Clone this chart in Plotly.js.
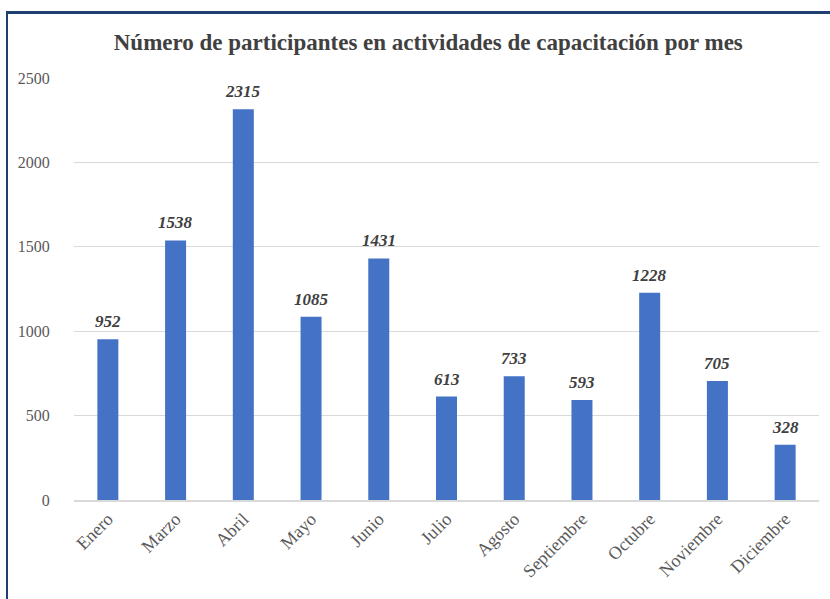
<!DOCTYPE html>
<html>
<head>
<meta charset="utf-8">
<script src="https://cdn.plot.ly/plotly-3.0.1.min.js"></script>
<style>
html,body{margin:0;padding:0;background:#fff;overflow:hidden;}
#frame{position:absolute;left:6px;top:11px;width:840px;height:600px;border-top:3px solid #1f3f6e;border-left:2px solid #1f3f6e;}
#chart{position:absolute;left:0;top:0;width:830px;height:599px;}
</style>
</head>
<body>
<div id="frame"></div>
<div id="chart"></div>
<script>
const months = ["Enero","Marzo","Abril","Mayo","Junio","Julio","Agosto","Septiembre","Octubre","Noviembre","Diciembre"];
const participants = [952,1538,2315,1085,1431,613,733,593,1228,705,328];
const yTicks = [0,500,1000,1500,2000,2500];

const serif = '"Liberation Serif", "DejaVu Serif", serif';

const trace = {
  type: 'bar',
  x: months,
  y: participants,
  marker: {color: '#4472c4'},
  cliponaxis: false,
  hoverinfo: 'none'
};

const labels = months.map((m, i) => ({
  x: m, y: participants[i], xref: 'x', yref: 'y',
  text: '<b><i>' + participants[i] + '</i></b>',
  showarrow: false, yanchor: 'bottom', xanchor: 'center', yshift: 6,
  font: {family: serif, size: 17, color: '#404040'}
}));

const layout = {
  width: 830, height: 599,
  paper_bgcolor: 'rgba(0,0,0,0)',
  plot_bgcolor: 'rgba(0,0,0,0)',
  margin: {l: 74, r: 11, t: 78, b: 99},
  bargap: 0.69,
  showlegend: false,
  annotations: labels,
  title: {
    text: '<b>Número de participantes en actividades de capacitación por mes</b>',
    font: {family: serif, size: 23, color: '#404040'},
    x: 0.516, xanchor: 'center', y: 0.93, yanchor: 'middle'
  },
  xaxis: {
    type: 'category',
    tickangle: -45,
    tickfont: {family: serif, size: 18, color: '#595959'},
    showgrid: false,
    showline: true, linecolor: '#d9d9d9', linewidth: 1.5,
    ticks: '', fixedrange: true
  },
  yaxis: {
    range: [0, 2500],
    tickvals: yTicks,
    ticktext: yTicks.map(String),
    tickfont: {family: serif, size: 16, color: '#595959'},
    showgrid: true, gridcolor: '#d9d9d9', gridwidth: 1,
    zeroline: false, showline: false,
    ticks: 'outside', ticklen: 20, tickcolor: 'rgba(0,0,0,0)',
    fixedrange: true
  }
};

Plotly.newPlot('chart', [trace], layout, {displayModeBar: false, staticPlot: true});
</script>
</body>
</html>
